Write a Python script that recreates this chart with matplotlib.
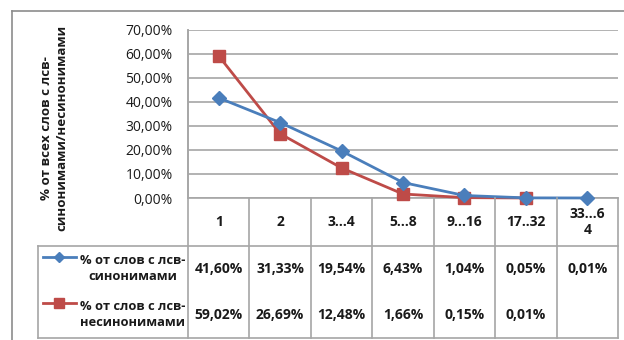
import matplotlib
matplotlib.use("Agg")
import matplotlib.pyplot as plt
from matplotlib.lines import Line2D
from matplotlib.ticker import FuncFormatter
import numpy as np

plt.rcParams['font.family'] = ['Open Sans', 'DejaVu Sans']

categories = ["1", "2", "3…4", "5…8", "9…16", "17..32", "33…6\n4"]
syn = [41.60, 31.33, 19.54, 6.43, 1.04, 0.05, 0.01]
nonsyn = [59.02, 26.69, 12.48, 1.66, 0.15, 0.01]
series_labels = ["% от слов с лсв-\nсинонимами", "% от слов с лсв-\nнесинонимами"]
y_title = "% от всех слов с лсв-\nсинонимами/несинонимами"

W, H = 624, 340
BLUE = "#4A7EBB"
RED = "#BE4B48"
GRID = "#A6A6A6"
TXT = "#1A1A1A"
FS = 10


def fx(px):
    return px / W


def fy(py):
    return 1 - py / H


fig = plt.figure(figsize=(W / 100, H / 100), dpi=100)
fig.patch.set_facecolor("white")

x0, x1, ytop, ybot = 188, 618, 29.5, 198
ax = fig.add_axes([fx(x0), fy(ybot), fx(x1) - fx(x0), fy(ytop) - fy(ybot)])

xs = np.arange(len(categories))
ax.plot(xs, np.array(syn) / 100, color=BLUE, lw=2, marker="D", ms=7,
        mfc=BLUE, mec=BLUE, zorder=4, clip_on=False)
ax.plot(xs[:len(nonsyn)], np.array(nonsyn) / 100, color=RED, lw=2, marker="s",
        ms=8.5, mfc=RED, mec=RED, zorder=3, clip_on=False)

ax.set_xlim(-0.5, len(categories) - 0.5)
ax.set_ylim(0, 0.7)
ax.set_yticks(np.arange(0, 0.71, 0.1))
ax.yaxis.set_major_formatter(FuncFormatter(lambda v, p: f"{v*100:.2f}%".replace(".", ",")))
ax.set_xticks([])
ax.tick_params(axis="y", length=0, pad=11, labelsize=FS, labelcolor=TXT)
ax.grid(axis="y", color=GRID, lw=1.2)
ax.set_axisbelow(True)
for s in ["top", "right"]:
    ax.spines[s].set_visible(False)
for s in ["left", "bottom"]:
    ax.spines[s].set_color(GRID)
    ax.spines[s].set_linewidth(1.2)

# y axis title
fig.text(fx(54), fy(128), y_title, rotation=90, ha="center", va="center",
         fontsize=9.6, fontweight="bold", color=TXT, linespacing=1.25)


def hline(y, xa, xb, color=GRID, lw=1.2):
    fig.add_artist(Line2D([fx(xa), fx(xb)], [fy(y), fy(y)], color=color, lw=lw))


def vline(x, ya, yb, color=GRID, lw=1.2):
    fig.add_artist(Line2D([fx(x), fx(x)], [fy(ya), fy(yb)], color=color, lw=lw))


# column boundaries from the axes' data scale
to_px = lambda xd: ax.transData.transform((xd, 0))[0]
bounds = [to_px(k - 0.5) for k in range(len(categories) + 1)]
centers = [to_px(k) for k in range(len(categories))]

row_top, row_mid, row_bot = 198, 246, 338
leg_left = 38

for b in bounds:
    vline(b, row_top, row_bot)
vline(bounds[0], ytop, row_top)
hline(row_mid, leg_left, bounds[-1])
hline(row_bot, leg_left, bounds[-1])
vline(leg_left, row_mid, row_bot)

for c, lab in zip(centers, categories):
    fig.text(fx(c), fy(222), lab, ha="center", va="center", fontsize=FS,
             fontweight="bold", color=TXT, linespacing=1.1)

row_y = [269, 315]
for vals, yy in zip([syn, nonsyn], row_y):
    for c, v in zip(centers, vals):
        fig.text(fx(c), fy(yy), f"{v:.2f}%".replace(".", ","), ha="center",
                 va="center", fontsize=FS, fontweight="bold", color=TXT)

# legend keys inside the table
for lab, yy, col, mk, ms in zip(series_labels, row_y, [BLUE, RED], ["D", "s"], [5, 7.5]):
    ky = yy - 12
    fig.add_artist(Line2D([fx(43), fx(76)], [fy(ky), fy(ky)], color=col, lw=2))
    fig.add_artist(Line2D([fx(59)], [fy(ky)], color=col, marker=mk, ms=ms,
                          mfc=col, mec=col, lw=0))
    fig.text(fx(132.5), fy(yy), lab, ha="center", va="center", fontsize=9.3,
             fontweight="bold", color=TXT, linespacing=1.3)

# outer frame
hline(11, 12, W, color="#8C8C8C", lw=1.2)
vline(12, 11, H, color="#8C8C8C", lw=1.2)

fig.savefig("out.png", dpi=100, facecolor="white")
